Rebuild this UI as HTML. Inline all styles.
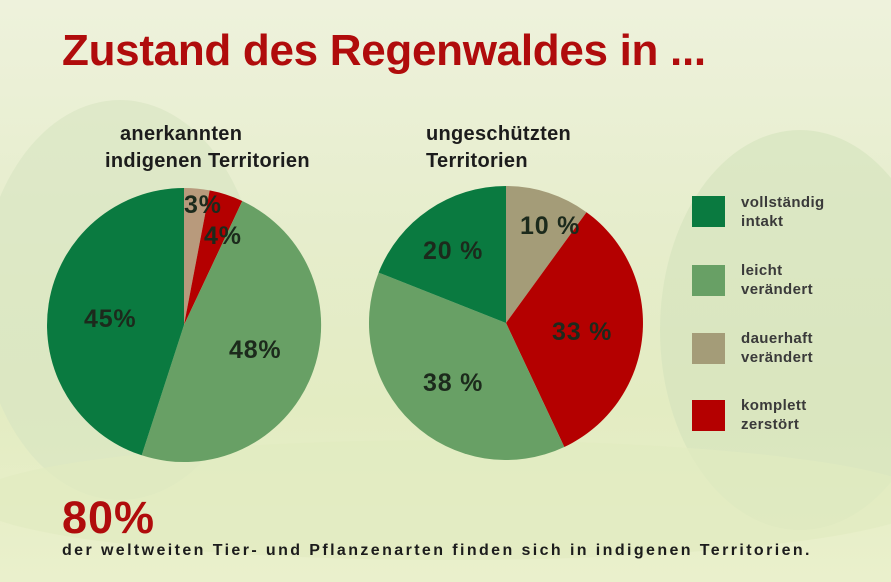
<!DOCTYPE html>
<html><head><meta charset="utf-8"><style>
html,body{margin:0;padding:0}
body{width:891px;height:582px;overflow:hidden;position:relative;font-family:"Liberation Sans",sans-serif;
background:linear-gradient(180deg,#eef2dc 0%,#e6edcc 40%,#e3ecc2 70%,#eaf0cc 100%);}
.t{position:absolute;white-space:nowrap}
</style></head><body>
<svg width="891" height="582" style="position:absolute;left:0;top:0">
<ellipse cx="120" cy="300" rx="140" ry="200" fill="#d7e4c2" opacity="0.6"/>
<ellipse cx="800" cy="330" rx="140" ry="200" fill="#d3e2bd" opacity="0.6"/>
<ellipse cx="450" cy="500" rx="480" ry="60" fill="#e1ebc0" opacity="0.7"/>
<path d="M184,325 L184,188 A137,137 0 0 1 209.7,190.4 Z" fill="#b89a7c"/>
<path d="M184,325 L209.7,190.4 A137,137 0 0 1 242.3,201 Z" fill="#b40000"/>
<path d="M184,325 L242.3,201 A137,137 0 0 1 141.7,455.3 Z" fill="#68a065"/>
<path d="M184,325 L141.7,455.3 A137,137 0 0 1 184,188 Z" fill="#0a7a40"/>
<path d="M506,323 L506,186 A137,137 0 0 1 586.5,212.2 Z" fill="#a49c78"/>
<path d="M506,323 L586.5,212.2 A137,137 0 0 1 564.3,447 Z" fill="#b40000"/>
<path d="M506,323 L564.3,447 A137,137 0 0 1 378.6,272.6 Z" fill="#68a065"/>
<path d="M506,323 L378.6,272.6 A137,137 0 0 1 506,186 Z" fill="#0a7a40"/>
<g font-family="Liberation Sans,sans-serif" font-weight="bold" font-size="25" fill="#1c2a1c" letter-spacing="0.8">
<text x="84" y="327">45%</text>
<text x="229" y="358">48%</text>
<text x="184" y="213">3%</text>
<text x="204" y="244">4%</text>
<text x="423" y="259">20 %</text>
<text x="520" y="234">10 %</text>
<text x="552" y="340">33 %</text>
<text x="423" y="391">38 %</text>
</g>
<rect x="692" y="196" width="33" height="31" fill="#0a7a40"/>
<rect x="692" y="265" width="33" height="31" fill="#68a065"/>
<rect x="692" y="333" width="33" height="31" fill="#a49c78"/>
<rect x="692" y="400" width="33" height="31" fill="#b40000"/>
</svg>
<div class="t" style="left:62px;top:26px;font-size:44px;font-weight:bold;color:#b00c0c;letter-spacing:-0.3px">Zustand des Regenwaldes in ...</div>
<div class="t" style="left:120px;top:121px;font-size:20px;font-weight:bold;color:#1c1c1c;line-height:27px;letter-spacing:0.3px">anerkannten<br><span style="margin-left:-15px">indigenen Territorien</span></div>
<div class="t" style="left:426px;top:121px;font-size:20px;font-weight:bold;color:#1c1c1c;line-height:27px;letter-spacing:0.3px">ungeschützten<br>Territorien</div>
<div class="t" style="left:741px;top:193px;font-size:15px;font-weight:bold;color:#3a3a3a;line-height:19px;letter-spacing:0.4px">vollständig<br>intakt</div>
<div class="t" style="left:741px;top:261px;font-size:15px;font-weight:bold;color:#3a3a3a;line-height:19px;letter-spacing:0.4px">leicht<br>verändert</div>
<div class="t" style="left:741px;top:329px;font-size:15px;font-weight:bold;color:#3a3a3a;line-height:19px;letter-spacing:0.4px">dauerhaft<br>verändert</div>
<div class="t" style="left:741px;top:396px;font-size:15px;font-weight:bold;color:#3a3a3a;line-height:19px;letter-spacing:0.4px">komplett<br>zerstört</div>
<div class="t" style="left:62px;top:492px;font-size:45px;font-weight:bold;color:#b00c0c;letter-spacing:1px">80%</div>
<div class="t" style="left:62px;top:542px;font-size:16px;font-weight:bold;color:#1c1c1c;letter-spacing:2.4px">der weltweiten Tier- und Pflanzenarten finden sich in indigenen Territorien.</div>
</body></html>
